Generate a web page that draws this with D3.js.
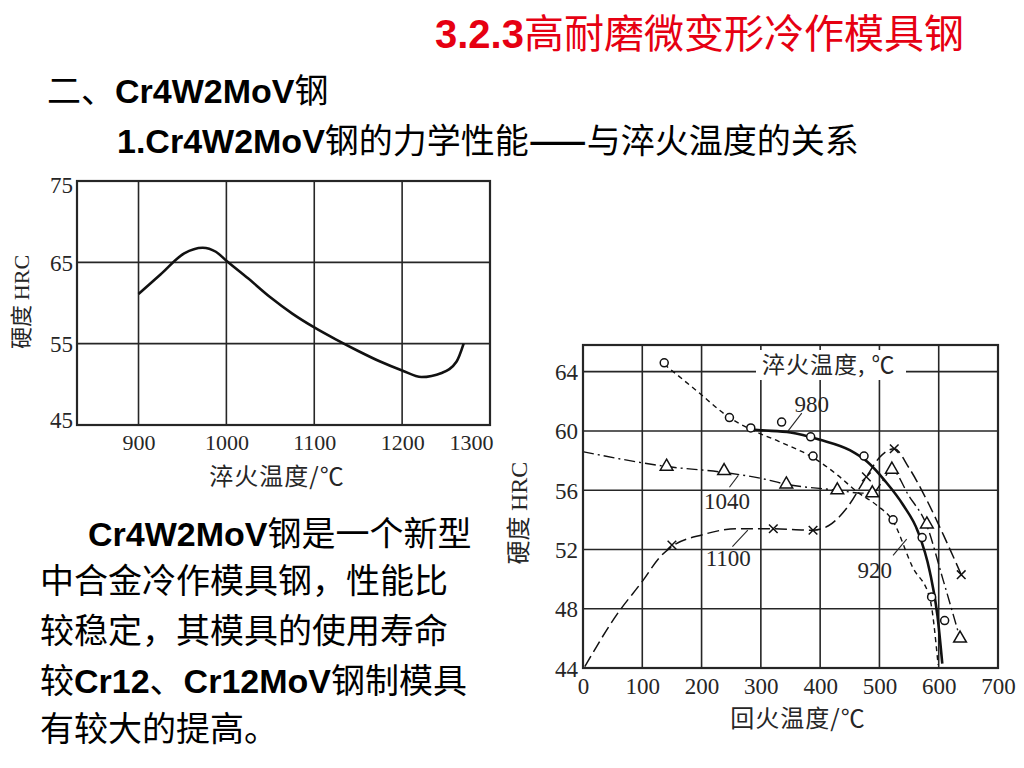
<!DOCTYPE html>
<html>
<head>
<meta charset="utf-8">
<script src="https://cdn.jsdelivr.net/npm/d3@7"></script>
<style>
  body { margin: 0; background: #fff; }
  svg { display: block; }
</style>
</head>
<body>
<svg width="1024" height="768"></svg>
<script>
// ---- data: left chart, hardness against quench temperature
const quenchTicks = [900, 1000, 1100, 1200, 1300]
const quenchHRCTicks = [45, 55, 65, 75]
const quenchTemp = [900, 925, 952, 973, 988, 1000, 1025, 1050, 1075, 1100, 1125, 1150, 1175, 1200, 1222, 1245, 1262, 1270]
const quenchHRC = [61.1, 63.5, 66.1, 66.8, 66.3, 65.2, 63.0, 60.7, 58.7, 57.0, 55.5, 54.1, 52.8, 51.7, 50.9, 51.4, 52.8, 55.0]

// ---- data: right chart, hardness against tempering temperature, one series per quench temp
const temperTicks = [0, 100, 200, 300, 400, 500, 600, 700]
const temperHRCTicks = [44, 48, 52, 56, 60, 64]
const seriesNames = ['920', '980', '1040', '1100']

// curve points [tempering temp, HRC]
const line920 = [[137, 64.5], [192, 62.7], [247, 60.9], [283, 60.1], [330, 59.3], [388, 58.2], [430, 57.0],
  [462, 55.9], [495, 55.0], [523, 53.9], [556, 50.8], [585, 48.7], [599, 44.2]]
const line980 = [[285, 60.1], [300, 60.05], [350, 59.9], [400, 59.4], [450, 58.7], [480, 57.9], [510, 56.6],
  [540, 55.0], [565, 53.2], [585, 50.5], [598, 47.5], [606, 44.3]]
const line1040 = [[0, 58.6], [141, 57.6], [238, 57.2], [300, 56.8], [343, 56.4], [429, 56.0], [470, 55.8],
  [488, 55.8], [505, 56.6], [520, 57.4], [550, 55.6], [580, 53.6], [607, 50.0], [636, 46.0]]
const line1100 = [[3, 44.1], [57, 47.6], [101, 49.9], [130, 51.5], [150, 52.2], [202, 53.0], [260, 53.4],
  [315, 53.4], [388, 53.3], [414, 53.6], [445, 54.8], [478, 56.9], [500, 58.2], [525, 58.8], [550, 57.5],
  [579, 55.4], [610, 52.8], [638, 50.3]]

// measured points (markers)
const marks920 = [[137, 64.6], [247, 60.9], [283, 60.2], [388, 58.3], [523, 54.0], [588, 48.8]]
const marks980 = [[335, 60.6], [384, 59.6], [474, 58.3], [572, 52.8], [610, 47.2]]
const marks1040 = [[141, 57.6], [238, 57.3], [343, 56.4], [429, 56.0], [488, 55.8], [521, 57.4], [580, 53.7], [636, 46.0]]
const marks1100 = [[150, 52.3], [321, 53.4], [388, 53.3], [478, 56.9], [525, 58.8], [638, 50.3]]

// where each series name sits, and its leader line (data coords)
const labelAt = [[492, 50.6], [386, 61.8], [243, 55.3], [245, 51.4]]
const leaderAt = [[[523, 51.6], [546, 52.7]], [[369, 61.2], [346, 60.0]], [[247, 56.2], [262, 57.0]], [[252, 52.2], [278, 53.3]]]

const ink = '#262626'
const cjk = '"Noto Sans CJK SC", sans-serif'
const latin = '"Liberation Sans", Arial, sans-serif'
const serif = '"Liberation Serif", "DejaVu Serif", serif'

const svg = d3.select('svg')

// ---- slide text
// draws a line of mixed text: [text, latin bold?, cjk bold?]
function richLine(x, y, parts, size, fill) {
  const t = svg.append('text')
    .attr('x', x)
    .attr('y', y)
    .attr('fill', fill || '#000')
    .style('font-size', size + 'px')
  parts.forEach(p => {
    t.append('tspan')
      .style('font-family', p[1] ? latin : cjk)
      .style('font-weight', p[1] || p[2] ? 'bold' : 'normal')
      .text(p[0])
  })
  return t
}

richLine(435, 48, [['3.2.3', true], ['高耐磨微变形冷作模具钢', false]], 40, '#e60012')
richLine(47, 103, [['二、', false], ['Cr4W2MoV', true], ['钢', false]], 34)
richLine(117, 153, [['1.Cr4W2MoV', true], ['钢的力学性能', false], ['——', false, true], ['与淬火温度的关系', false]], 34)

richLine(88, 546, [['Cr4W2MoV', true], ['钢是一个新型', false]], 34)
richLine(40, 593, [['中合金冷作模具钢，性能比', false]], 34)
richLine(40, 643, [['较稳定，其模具的使用寿命', false]], 34)
richLine(40, 693, [['较', false], ['Cr12', true], ['、', false], ['Cr12MoV', true], ['钢制模具', false]], 34)
richLine(40, 741, [['有较大的提高。', false]], 34)

// ---- shared frame: grid, tick labels
function drawFrame(x, y, xTicks, yTicks, xLabelDy, yLabelDx) {
  const g = svg.append('g')
  const [x0, x1] = x.range()
  const [y0, y1] = y.range()

  g.selectAll('.vgrid')
    .data(xTicks.filter(d => x(d) > x0 + 2 && x(d) < x1 - 2))
    .join('line')
    .attr('x1', d => x(d)).attr('x2', d => x(d))
    .attr('y1', y0).attr('y2', y1)
    .attr('stroke', ink).attr('stroke-width', 1.6)

  g.selectAll('.hgrid')
    .data(yTicks.filter(d => y(d) < y0 - 2 && y(d) > y1 + 2))
    .join('line')
    .attr('x1', x0).attr('x2', x1)
    .attr('y1', d => y(d)).attr('y2', d => y(d))
    .attr('stroke', ink).attr('stroke-width', 1.6)

  const xa = g.append('g')
    .attr('transform', `translate(0,${y0})`)
    .call(d3.axisBottom(x).tickValues(xTicks).tickSize(0).tickFormat(d3.format('d')))
  xa.select('.domain').remove()
  xa.selectAll('text')
    .attr('y', xLabelDy).attr('dy', '0.35em')
    .style('font-family', serif).style('font-size', '22px').attr('fill', ink)

  const ya = g.append('g')
    .attr('transform', `translate(${x0},0)`)
    .call(d3.axisLeft(y).tickValues(yTicks).tickSize(0))
  ya.select('.domain').remove()
  ya.selectAll('text')
    .attr('x', yLabelDx).attr('dy', '0.35em')
    .style('font-family', serif).style('font-size', '23px').attr('fill', ink)

  return { g, xa, ya }
}

function drawBorder(x, y) {
  const [x0, x1] = x.range()
  const [y0, y1] = y.range()
  svg.append('rect')
    .attr('x', x0).attr('y', y1)
    .attr('width', x1 - x0).attr('height', y0 - y1)
    .attr('fill', 'none').attr('stroke', ink).attr('stroke-width', 2.2)
}

// rotated "硬度 HRC" title
function yTitle(cx, cy, size) {
  const t = svg.append('text')
    .attr('transform', `translate(${cx},${cy}) rotate(-90)`)
    .attr('text-anchor', 'middle')
    .attr('dy', '0.35em')
    .attr('fill', ink)
    .style('font-size', size + 'px')
  t.append('tspan').style('font-family', cjk).text('硬度 ')
  t.append('tspan').style('font-family', serif).text(' HRC')
}

function cjkTitle(cx, cy, txt) {
  svg.append('text')
    .attr('x', cx).attr('y', cy)
    .attr('text-anchor', 'middle').attr('dy', '0.35em')
    .attr('fill', ink)
    .style('font-family', cjk).style('font-size', '24px')
    .style('letter-spacing', '1px')
    .text(txt)
}

// ---- left chart
const leftX = d3.scaleLinear().domain([830, 1300]).range([77, 490])
const leftY = d3.scaleLinear().domain([45, 75]).range([425, 181])

const left = drawFrame(leftX, leftY, quenchTicks, quenchHRCTicks, 17, -4)
// last x label is pulled inside the box
left.xa.selectAll('text').filter(d => d === 1300).attr('text-anchor', 'end').attr('dx', 3)
left.ya.selectAll('text').filter(d => d === 45).attr('dy', '0.1em')
left.ya.selectAll('text').filter(d => d === 75).attr('dy', '0.5em')

const quenchLine = d3.line()
  .x((d, i) => leftX(quenchTemp[i]))
  .y(d => leftY(d))
  .curve(d3.curveMonotoneX)

svg.append('path')
  .attr('d', quenchLine(quenchHRC))
  .attr('fill', 'none').attr('stroke', '#111').attr('stroke-width', 2.6)

drawBorder(leftX, leftY)
yTitle(21, 302, 22)
cjkTitle(277, 477, '淬火温度/℃')

// ---- right chart
const rightX = d3.scaleLinear().domain([0, 700]).range([583, 998])
const rightY = d3.scaleLinear().domain([44, 65.8]).range([668, 345])

const right = drawFrame(rightX, rightY, temperTicks, temperHRCTicks, 18, -5)
right.xa.selectAll('text').style('font-size', '23px')

// legend caption over the grid
const cap = svg.append('g')
cap.append('rect')
  .attr('x', 756).attr('y', 350).attr('width', 150).attr('height', 30)
  .attr('fill', '#fff')
cap.append('text')
  .attr('x', 762).attr('y', 365).attr('dy', '0.35em')
  .attr('fill', ink)
  .style('font-family', cjk).style('font-size', '23px').style('letter-spacing', '1px')
  .text('淬火温度, ℃')

const seriesLines = [line920, line980, line1040, line1100]
const seriesMarks = [marks920, marks980, marks1040, marks1100]
const seriesDash = [[5, 4], null, [11, 4, 2, 4], [12, 5]]
const seriesWidth = [1.4, 2.6, 1.4, 1.5]
const seriesSymbol = ['circle', 'circle', d3.symbolTriangle, d3.symbolX]

const temperLine = d3.line()
  .x(d => rightX(d[0]))
  .y(d => rightY(d[1]))
  .curve(d3.curveMonotoneX)

seriesLines.forEach((pts, i) => {
  svg.append('path')
    .attr('d', temperLine(pts))
    .attr('fill', 'none')
    .attr('stroke', '#111')
    .attr('stroke-width', seriesWidth[i])
    .attr('stroke-dasharray', seriesDash[i] ? seriesDash[i].join(',') : null)
})

seriesMarks.forEach((pts, i) => {
  const g = svg.append('g')
  if (seriesSymbol[i] === 'circle') {
    g.selectAll('circle')
      .data(pts)
      .join('circle')
      .attr('cx', d => rightX(d[0]))
      .attr('cy', d => rightY(d[1]))
      .attr('r', 4)
      .attr('fill', '#fff').attr('stroke', '#111').attr('stroke-width', 1.5)
  } else {
    const sym = d3.symbol().type(seriesSymbol[i]).size(seriesSymbol[i] === d3.symbolX ? 50 : 70)
    g.selectAll('path')
      .data(pts)
      .join('path')
      .attr('transform', d => `translate(${rightX(d[0])},${rightY(d[1])})`)
      .attr('d', sym)
      .attr('fill', seriesSymbol[i] === d3.symbolX ? 'none' : '#fff')
      .attr('stroke', '#111').attr('stroke-width', 1.5)
  }
})

// series names with leader lines
seriesNames.forEach((name, i) => {
  const l = leaderAt[i]
  svg.append('line')
    .attr('x1', rightX(l[0][0])).attr('y1', rightY(l[0][1]))
    .attr('x2', rightX(l[1][0])).attr('y2', rightY(l[1][1]))
    .attr('stroke', ink).attr('stroke-width', 1.1)
  svg.append('text')
    .attr('x', rightX(labelAt[i][0])).attr('y', rightY(labelAt[i][1]))
    .attr('text-anchor', 'middle').attr('dy', '0.35em')
    .attr('fill', ink)
    .style('font-family', serif).style('font-size', '23px')
    .text(name)
})

drawBorder(rightX, rightY)
yTitle(519, 513, 24)
cjkTitle(798, 719, '回火温度/℃')
</script>
</body>
</html>
